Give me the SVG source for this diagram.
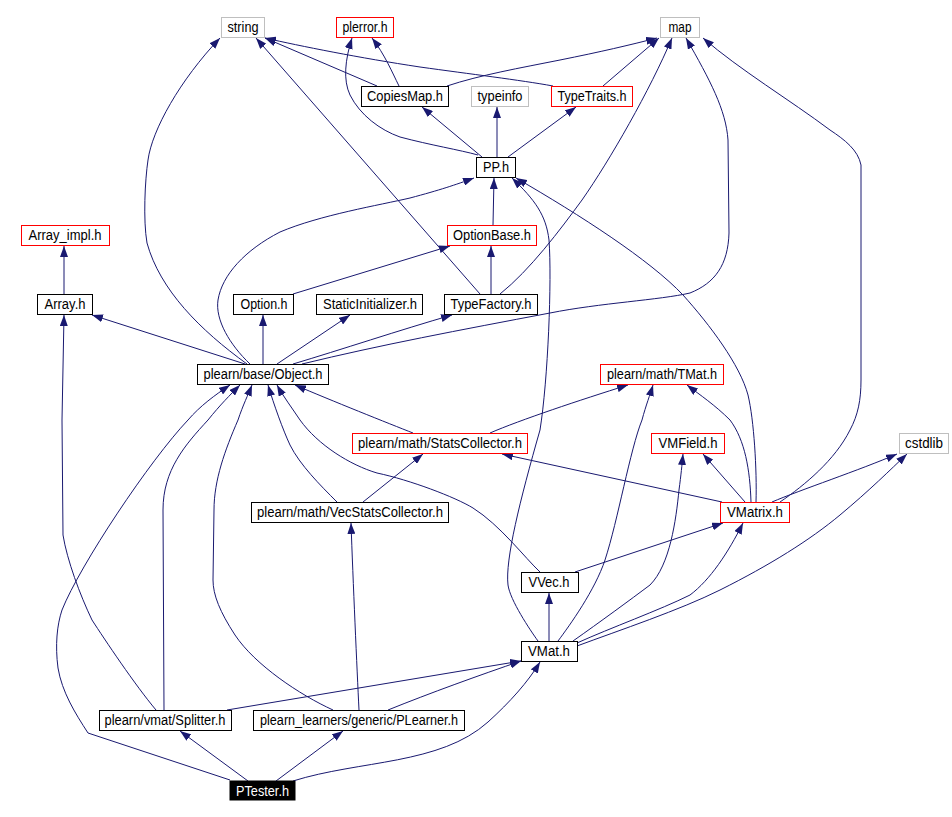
<svg xmlns="http://www.w3.org/2000/svg" width="952" height="817" viewBox="0 0 952 817">
<defs>
<marker id="a" markerWidth="11" markerHeight="8" refX="11" refY="4" orient="auto" markerUnits="userSpaceOnUse"><path d="M0,0 L11,4 L0,8 z" fill="#191970"/></marker>
<style>
.e path{fill:none;stroke:#191970;stroke-width:1;marker-end:url(#a)}
.n rect{fill:#fff;stroke:#000;stroke-width:1}
.r rect{stroke:#ff0000}
.g rect{stroke:#bfbfbf}
.n text{font-family:"Liberation Sans",Arial,sans-serif;font-size:14px;fill:#000;text-anchor:middle}
</style>
</defs>
<rect width="952" height="817" fill="#fff"/>
<g class="e" id="edges">
<path d="M248,781 L180,731"/>
<path d="M276,781 L343,731"/>
<path d="M293,781 C360,760 440,765 488,722 C510,702 528,682 540,662"/>
<path d="M230,780 L88,733 C75,713 62,692 58,668 C55,645 57,625 62,610 C80,565 150,460 188,420 C200,406 215,395 230,385"/>
<path d="M156,710 C135,685 105,640 92,620 C80,595 67,560 63,535 L62,420 L64,315"/>
<path d="M164,710 L163,510 C163,470 185,445 208,420 C220,405 230,395 240,385"/>
<path d="M227,710 L521,661"/>
<path d="M388,710 C430,693 480,675 521,661"/>
<path d="M333,710 C300,695 255,665 235,635 C220,612 213,595 213,580 L214,510 C214,480 225,450 238,420 C243,405 248,395 252,385"/>
<path d="M359,710 C357,670 353,580 351,523"/>
<path d="M337,502 C320,485 300,465 290,445 C283,430 274,405 268,385"/>
<path d="M363,502 L423,454"/>
<path d="M540,572 C525,558 500,525 473,508 C455,497 410,480 377,473 C350,465 318,445 300,420 C292,408 283,396 277,385"/>
<path d="M575,572 L723,523"/>
<path d="M549,641 L549,593"/>
<path d="M413,433 C390,424 330,400 295,385"/>
<path d="M490,433 C520,420 580,400 628,385"/>
<path d="M722,502 L502,454"/>
<path d="M745,502 L703,454"/>
<path d="M751,502 C750,470 745,440 730,420 C715,405 700,395 687,385"/>
<path d="M756,502 C757,470 754,420 748,395 C740,365 710,325 683,295 C650,260 580,215 516,178"/>
<path d="M538,641 C530,630 510,600 508,585 C505,560 520,500 540,430 C548,380 552,280 549,240 C546,215 535,200 512,178"/>
<path d="M558,641 C570,625 595,590 605,560 C618,520 630,450 642,420 C646,405 650,395 653,385"/>
<path d="M573,641 C600,622 630,600 650,585 C670,565 676,520 679,490 C681,475 682,465 683,454"/>
<path d="M577,643 C610,628 660,610 690,595 C710,580 728,553 743,523"/>
<path d="M577,646 C620,630 680,610 720,590 C770,565 810,540 840,515 C870,490 890,470 907,454"/>
<path d="M772,502 C800,490 860,470 897,454"/>
<path d="M780,502 C805,485 835,460 850,430 C858,415 861,400 861,380 L861,165 C858,150 845,140 830,130 C790,100 740,70 703,38"/>
<path d="M302,364 C380,345 460,330 550,313 C600,303 660,300 690,293 C715,283 728,265 729,233 L728,140 C726,110 710,80 686,38"/>
<path d="M293,364 C340,350 400,330 452,315"/>
<path d="M277,364 L350,315"/>
<path d="M263,364 L263,315"/>
<path d="M245,364 L92,315"/>
<path d="M247,364 C200,330 160,290 147,243 C143,220 145,180 148,160 C152,130 180,80 220,38"/>
<path d="M250,364 C230,345 215,320 218,300 C222,275 245,250 280,232 C320,215 380,205 410,198 C440,190 455,185 474,178"/>
<path d="M491,294 L491,246"/>
<path d="M480,294 L256,38"/>
<path d="M500,294 C530,270 560,230 582,200 C610,160 650,90 672,38"/>
<path d="M293,294 L450,246"/>
<path d="M493,225 L494,178"/>
<path d="M497,157 L497,107"/>
<path d="M482,157 L422,107"/>
<path d="M478,155 C460,150 430,145 400,137 C380,130 360,115 350,95 C343,80 345,60 352,38"/>
<path d="M508,157 L576,107"/>
<path d="M377,86 L265,38"/>
<path d="M399,86 C392,72 385,55 372,38"/>
<path d="M447,86 C480,75 520,68 560,60 C600,52 630,45 657,38"/>
<path d="M553,86 C520,80 470,74 420,67 C360,58 300,46 265,38"/>
<path d="M603,86 L659,38"/>
<path d="M64,294 L64,246"/>
</g>
<g class="n g" id="n_string"><rect x="221.5" y="17.5" width="43" height="20"/><text x="243" y="32" textLength="31" lengthAdjust="spacingAndGlyphs">string</text></g>
<g class="n r" id="n_plerror"><rect x="336.5" y="17.5" width="57" height="20"/><text x="365" y="32" textLength="45" lengthAdjust="spacingAndGlyphs">plerror.h</text></g>
<g class="n g" id="n_map"><rect x="660.5" y="17.5" width="39" height="20"/><text x="680" y="32" textLength="23" lengthAdjust="spacingAndGlyphs">map</text></g>
<g class="n" id="n_copiesmap"><rect x="361.5" y="86.5" width="87" height="20"/><text x="405" y="101" textLength="76" lengthAdjust="spacingAndGlyphs">CopiesMap.h</text></g>
<g class="n g" id="n_typeinfo"><rect x="471.5" y="86.5" width="57" height="20"/><text x="500" y="101" textLength="45" lengthAdjust="spacingAndGlyphs">typeinfo</text></g>
<g class="n r" id="n_typetraits"><rect x="551.5" y="86.5" width="81" height="20"/><text x="592" y="101" textLength="69" lengthAdjust="spacingAndGlyphs">TypeTraits.h</text></g>
<g class="n" id="n_pp"><rect x="476.5" y="157.5" width="39" height="20"/><text x="496" y="172" textLength="26" lengthAdjust="spacingAndGlyphs">PP.h</text></g>
<g class="n r" id="n_arrayimpl"><rect x="21.5" y="225.5" width="88" height="20"/><text x="65" y="240" textLength="73" lengthAdjust="spacingAndGlyphs">Array_impl.h</text></g>
<g class="n r" id="n_optionbase"><rect x="447.5" y="225.5" width="89" height="20"/><text x="492" y="240" textLength="78" lengthAdjust="spacingAndGlyphs">OptionBase.h</text></g>
<g class="n" id="n_array"><rect x="37.5" y="294.5" width="55" height="20"/><text x="65" y="309" textLength="41" lengthAdjust="spacingAndGlyphs">Array.h</text></g>
<g class="n" id="n_option"><rect x="233.5" y="294.5" width="60" height="20"/><text x="264" y="309" textLength="47" lengthAdjust="spacingAndGlyphs">Option.h</text></g>
<g class="n" id="n_staticinit"><rect x="316.5" y="294.5" width="106" height="20"/><text x="370" y="309" textLength="94" lengthAdjust="spacingAndGlyphs">StaticInitializer.h</text></g>
<g class="n" id="n_typefactory"><rect x="444.5" y="294.5" width="93" height="20"/><text x="491" y="309" textLength="81" lengthAdjust="spacingAndGlyphs">TypeFactory.h</text></g>
<g class="n" id="n_object"><rect x="197.5" y="364.5" width="131" height="20"/><text x="263" y="379" textLength="119" lengthAdjust="spacingAndGlyphs">plearn/base/Object.h</text></g>
<g class="n r" id="n_tmat"><rect x="600.5" y="364.5" width="123" height="20"/><text x="662" y="379" textLength="110" lengthAdjust="spacingAndGlyphs">plearn/math/TMat.h</text></g>
<g class="n r" id="n_statscollector"><rect x="352.5" y="433.5" width="175" height="20"/><text x="440" y="448" textLength="164" lengthAdjust="spacingAndGlyphs">plearn/math/StatsCollector.h</text></g>
<g class="n r" id="n_vmfield"><rect x="651.5" y="433.5" width="73" height="20"/><text x="688" y="448" textLength="59" lengthAdjust="spacingAndGlyphs">VMField.h</text></g>
<g class="n g" id="n_cstdlib"><rect x="899.5" y="433.5" width="49" height="20"/><text x="924" y="448" textLength="38" lengthAdjust="spacingAndGlyphs">cstdlib</text></g>
<g class="n" id="n_vecstats"><rect x="251.5" y="502.5" width="197" height="20"/><text x="350" y="517" textLength="186" lengthAdjust="spacingAndGlyphs">plearn/math/VecStatsCollector.h</text></g>
<g class="n r" id="n_vmatrix"><rect x="720.5" y="502.5" width="69" height="20"/><text x="755" y="517" textLength="56" lengthAdjust="spacingAndGlyphs">VMatrix.h</text></g>
<g class="n" id="n_vvec"><rect x="521.5" y="572.5" width="57" height="20"/><text x="549" y="587" textLength="41" lengthAdjust="spacingAndGlyphs">VVec.h</text></g>
<g class="n" id="n_vmat"><rect x="521.5" y="641.5" width="56" height="20"/><text x="549" y="656" textLength="42" lengthAdjust="spacingAndGlyphs">VMat.h</text></g>
<g class="n" id="n_splitter"><rect x="99.5" y="710.5" width="132" height="20"/><text x="165" y="725" textLength="121" lengthAdjust="spacingAndGlyphs">plearn/vmat/Splitter.h</text></g>
<g class="n" id="n_plearner"><rect x="253.5" y="710.5" width="211" height="20"/><text x="359" y="725" textLength="198" lengthAdjust="spacingAndGlyphs">plearn_learners/generic/PLearner.h</text></g>
<g class="n" id="n_ptester"><rect x="230" y="781" width="65" height="19" style="fill:#000;stroke:#000"/><text x="262.5" y="795.5" textLength="53" lengthAdjust="spacingAndGlyphs" style="fill:#fff">PTester.h</text></g>
</svg>
